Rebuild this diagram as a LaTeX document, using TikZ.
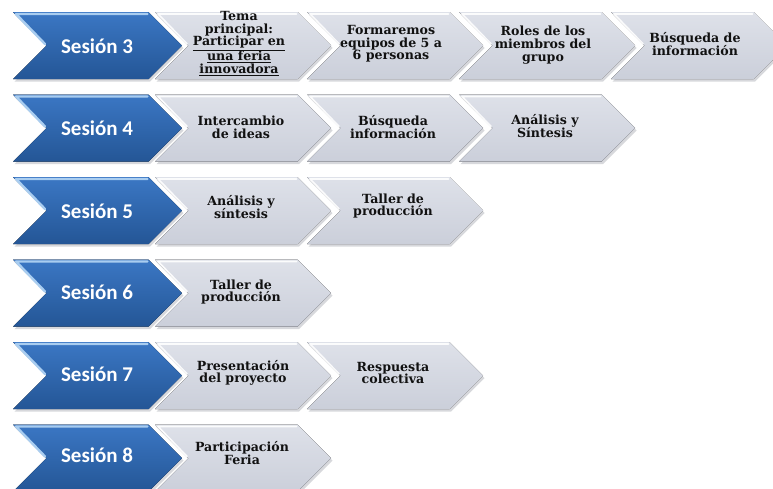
\documentclass[tikz,border=0pt]{standalone}
\usepackage{fontspec}
\newfontfamily\carlitofam{Carlito}
\newfontfamily\dvserif{DejaVu Serif}
\definecolor{blueTop}{HTML}{3B77C4}
\definecolor{blueBot}{HTML}{245696}
\definecolor{blueHL}{HTML}{A9CDF0}
\definecolor{grayTop}{HTML}{DEE1E9}
\definecolor{grayBot}{HTML}{CBCFDA}
\definecolor{grayShade}{HTML}{8E929B}
\definecolor{txtDark}{HTML}{111111}
\tikzset{
  bluebody/.style={top color=blueTop, bottom color=blueBot},
  graybody/.style={top color=grayTop, bottom color=grayBot},
  shadowbody/.style={fill=grayShade, opacity=0.35},
  bluehl/.style={draw=blueHL, line width=2.4pt, line join=round, line cap=round},
  grayhl/.style={draw=white, line width=1.8pt, line join=round, line cap=round, opacity=0.9},
  sesion/.style={font=\carlitofam\bfseries\fontsize{21}{24}\selectfont, text=white, inner sep=0pt},
  tarea/.style={font=\dvserif\bfseries\fontsize{12.6}{12.7}\selectfont, align=center, text=txtDark, inner sep=0pt},
}
% blue chevron: #1 = vertical centre
\newcommand{\bluechev}[1]{%
  \fill[shadowbody] (14.5,#1-31) -- (150,#1-31) -- (183.5,#1+2.5) -- (150,#1+36) -- (14.5,#1+36) -- (48,#1+2.5) -- cycle;
  \fill[bluebody] (13,#1-33.5) -- (148.5,#1-33.5) -- (182,#1) -- (148.5,#1+33.5) -- (13,#1+33.5) -- (46.5,#1) -- cycle;
  \draw[bluehl] (45,#1-1.5) -- (16,#1-31.5) -- (147.5,#1-31.5);
}
% gray chevron: #1 = left x, #2 = vertical centre
\newcommand{\graychev}[2]{%
  \fill[shadowbody] (#1+1.5,#2-31) -- (#1+144,#2-31) -- (#1+177.5,#2+2.5) -- (#1+144,#2+36) -- (#1+1.5,#2+36) -- (#1+35,#2+2.5) -- cycle;
  \fill[graybody] (#1,#2-33.5) -- (#1+142.5,#2-33.5) -- (#1+176,#2) -- (#1+142.5,#2+33.5) -- (#1,#2+33.5) -- (#1+33.5,#2) -- cycle;
  \draw[grayhl] (#1+32,#2-1.5) -- (#1+3,#2-31.5) -- (#1+141.5,#2-31.5);
}
\begin{document}
\begin{tikzpicture}[x=1pt,y=-1pt]
\clip (0,0) rectangle (773,488);
\fill[white] (0,0) rectangle (773,488);
% row 3
\bluechev{45.5}
\graychev{155}{45.5}\graychev{307}{45.5}\graychev{459}{45.5}\graychev{611}{45.5}
\node[sesion] (s3) at (97,46) {Sesión 3};
\node[tarea] (t31) at (239,43.5) {Tema\\principal:\\\underline{Participar en}\\\underline{una feria}\\\underline{innovadora}};
\node[tarea] (t32) at (391,44) {Formaremos\\equipos de 5 a\\6 personas};
\node[tarea] (t33) at (543,45) {Roles de los\\miembros del\\grupo};
\node[tarea] (t34) at (695,44) {Búsqueda de\\información};
% row 4
\bluechev{128}
\graychev{155}{128}\graychev{307}{128}\graychev{459}{128}
\node[sesion] (s4) at (97,128.5) {Sesión 4};
\node[tarea] (t41) at (241,127) {Intercambio\\de ideas};
\node[tarea] (t42) at (393,127) {Búsqueda\\información};
\node[tarea] (t43) at (545,126) {Análisis y\\Síntesis};
% row 5
\bluechev{210.5}
\graychev{155}{210.5}\graychev{307}{210.5}
\node[sesion] (s5) at (97,211) {Sesión 5};
\node[tarea] (t51) at (241,207) {Análisis y\\síntesis};
\node[tarea] (t52) at (393,206) {Taller de\\producción};
% row 6
\bluechev{293}
\graychev{155}{293}
\node[sesion] (s6) at (97,292.5) {Sesión 6};
\node[tarea] (t61) at (241,292) {Taller de\\producción};
% row 7
\bluechev{375.5}
\graychev{155}{375.5}\graychev{307}{375.5}
\node[sesion] (s7) at (97,374) {Sesión 7};
\node[tarea] (t71) at (243,373) {Presentación\\del proyecto};
\node[tarea] (t72) at (393,373) {Respuesta\\colectiva};
% row 8
\bluechev{458}
\graychev{155}{458}
\node[sesion] (s8) at (97,455) {Sesión 8};
\node[tarea] (t81) at (242,453) {Participación\\Feria};
\end{tikzpicture}
\end{document}
